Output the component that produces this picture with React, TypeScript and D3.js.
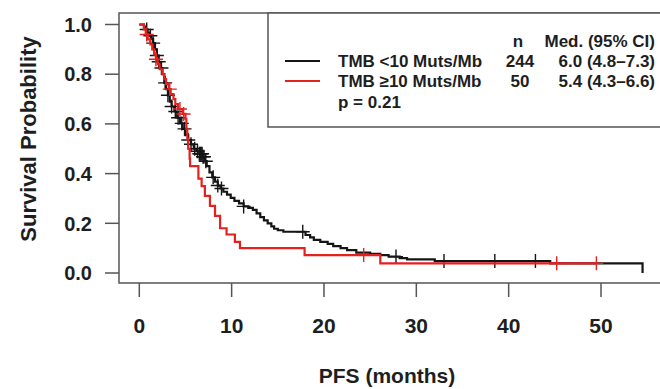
import React from "react";
import * as d3 from "d3";

// Kaplan–Meier step knots: [months, survival]
const lowTimes = [0, 0.5, 0.7, 0.9, 1.1, 1.3, 1.5, 1.7, 1.9, 2.1, 2.3, 2.5, 2.7, 2.9, 3.1, 3.3, 3.5, 3.8, 4.1, 4.4, 4.7, 5.0, 5.3, 5.6, 5.9, 6.2, 6.5, 6.9, 7.1, 7.3, 7.6, 7.9, 8.2, 8.5, 8.8, 9.1, 9.5, 9.9, 10.3, 10.8, 11.3, 11.8, 12.3, 12.7, 13.1, 13.5, 13.9, 14.3, 14.6, 15.0, 15.6, 18.0, 18.5, 18.9, 19.6, 20.4, 21.0, 21.8, 22.5, 23.5, 25.0, 26.1, 27.0, 28.2, 29.0, 32.0, 44.5, 54.5];
const lowSurv = [1.0, 0.992, 0.98, 0.967, 0.955, 0.942, 0.925, 0.9, 0.875, 0.85, 0.825, 0.8, 0.765, 0.74, 0.715, 0.69, 0.67, 0.65, 0.625, 0.602, 0.58, 0.555, 0.535, 0.518, 0.5, 0.49, 0.48, 0.468, 0.45, 0.43, 0.405, 0.385, 0.368, 0.352, 0.34, 0.327, 0.315, 0.302, 0.29, 0.28, 0.268, 0.262, 0.254, 0.24, 0.225, 0.212, 0.2, 0.188, 0.178, 0.172, 0.166, 0.153, 0.143, 0.133, 0.125, 0.117, 0.108, 0.1, 0.092, 0.082, 0.077, 0.072, 0.066, 0.06, 0.055, 0.048, 0.039, 0.0];
const lowCensor = [0.8, 1.2, 1.5, 1.9, 2.1, 2.4, 2.8, 3.1, 3.5, 3.9, 4.2, 4.6, 4.9, 5.3, 5.6, 6.0, 6.3, 6.5, 6.6, 6.7, 6.8, 6.9, 7.0, 7.2, 8.0, 8.5, 8.9, 11.3, 17.7, 27.8, 33.0, 38.5, 42.9];

const highTimes = [0, 0.5, 0.7, 0.9, 1.2, 1.4, 1.6, 1.8, 2.0, 2.2, 2.5, 2.7, 2.9, 3.2, 3.4, 3.7, 3.9, 4.2, 4.7, 5.0, 5.1, 5.2, 5.3, 5.45, 5.5, 6.4, 6.75, 7.1, 7.65, 8.2, 8.75, 9.45, 10.35, 10.9, 17.9, 26.1, 49.5];
const highSurv = [1.0, 0.98, 0.96, 0.94, 0.92, 0.9, 0.88, 0.86, 0.84, 0.82, 0.8, 0.78, 0.76, 0.74, 0.72, 0.7, 0.68, 0.66, 0.64, 0.62, 0.58, 0.54, 0.5, 0.46, 0.43, 0.38, 0.35, 0.31, 0.27, 0.23, 0.18, 0.155, 0.125, 0.1, 0.072, 0.039, 0.039];
const highCensor = [0.8, 1.8, 3.3, 4.4, 4.8, 24.3, 45.2, 49.5];

const xTicks = [0, 10, 20, 30, 40, 50];
const yTicks = [0, 0.2, 0.4, 0.6, 0.8, 1.0];

const legendRows = [
  { label: "TMB <10 Muts/Mb", n: "244", med: "6.0 (4.8–7.3)", color: "#151515" },
  { label: "TMB ≥10 Muts/Mb", n: "50", med: "5.4 (4.3–6.6)", color: "#e3211f" },
];
const pText = "p = 0.21";

const FONT = "'Liberation Sans', Arial, Helvetica, sans-serif";
const TXT = "#1e1e1e";
const AX = "#555";
const LFS = 17;

export default function App() {
  const W = 660, H = 389;
  const x = d3.scaleLinear().domain([0, 50]).range([139.3, 601]);
  const y = d3.scaleLinear().domain([0, 1]).range([273, 24.5]);

  const line = d3
    .line<[number, number]>()
    .x((d) => x(d[0]))
    .y((d) => y(d[1]))
    .curve(d3.curveStepAfter);

  const low: [number, number][] = lowTimes.map((t, i) => [t, lowSurv[i]]);
  const high: [number, number][] = highTimes.map((t, i) => [t, highSurv[i]]);

  const survAt = (times: number[], surv: number[], t: number) => {
    const i = d3.bisectRight(times, t) - 1;
    return surv[Math.max(0, i)];
  };

  const plus = (t: number, s: number, color: string, key: string) => {
    const cx = x(t), cy = y(s), r = 7;
    return (
      <path
        key={key}
        d={`M${cx - r},${cy}H${cx + r}M${cx},${cy - r}V${cy + r}`}
        stroke={color}
        strokeWidth={1.4}
        fill="none"
      />
    );
  };

  return (
    <svg
      width={W}
      height={H}
      style={{ position: "absolute", left: 0, top: 0, background: "#fff" }}
      fontFamily={FONT}
      fontWeight="bold"
    >
      <rect x={0} y={0} width={W} height={H} fill="#fff" />
      {/* plot frame */}
      <rect x={119} y={13} width={560} height={270} fill="none" stroke={AX} strokeWidth={1.5} />
      {/* y axis */}
      {yTicks.map((v) => (
        <g key={"y" + v}>
          <line x1={105} x2={119} y1={y(v)} y2={y(v)} stroke={AX} strokeWidth={1.5} />
          <text x={92} y={y(v)} dy="0.36em" textAnchor="end" fontSize={20} fill={TXT}>
            {v.toFixed(1)}
          </text>
        </g>
      ))}
      {/* x axis */}
      {xTicks.map((v) => (
        <g key={"x" + v}>
          <line x1={x(v)} x2={x(v)} y1={283} y2={297} stroke={AX} strokeWidth={1.5} />
          <text x={x(v)} y={333} textAnchor="middle" fontSize={21} fill={TXT}>
            {v}
          </text>
        </g>
      ))}
      <text
        transform="translate(28,139) rotate(-90)"
        textAnchor="middle"
        dy="0.35em"
        fontSize={22}
        fill={TXT}
      >
        Survival Probability
      </text>
      <text x={387} y={383} textAnchor="middle" fontSize={21} fill={TXT}>
        PFS (months)
      </text>

      {/* curves */}
      <path d={line(low) || ""} fill="none" stroke={legendRows[0].color} strokeWidth={2.2} />
      {lowCensor.map((t, i) => plus(t, survAt(lowTimes, lowSurv, t), legendRows[0].color, "lc" + i))}
      <path d={line(high) || ""} fill="none" stroke={legendRows[1].color} strokeWidth={2.2} />
      {highCensor.map((t, i) => plus(t, survAt(highTimes, highSurv, t), legendRows[1].color, "hc" + i))}

      {/* legend */}
      <rect x={268} y={13} width={420} height={114} fill="#fff" stroke={AX} strokeWidth={1.5} />
      <text x={518} y={47} textAnchor="middle" fontSize={LFS} fill={TXT}>n</text>
      <text x={655} y={47} textAnchor="end" fontSize={LFS} fill={TXT}>Med. (95% CI)</text>
      {legendRows.map((r, i) => {
        const by = 67 + i * 20;
        return (
          <g key={"lg" + i}>
            <line x1={285} x2={320} y1={by - 6} y2={by - 6} stroke={r.color} strokeWidth={2.2} />
            <text x={338} y={by} fontSize={LFS} fill={TXT}>{r.label}</text>
            <text x={520} y={by} textAnchor="middle" fontSize={LFS} fill={TXT}>{r.n}</text>
            <text x={655} y={by} textAnchor="end" fontSize={LFS} fill={TXT}>{r.med}</text>
          </g>
        );
      })}
      <text x={338} y={108} fontSize={LFS} fill={TXT}>{pText}</text>
    </svg>
  );
}
